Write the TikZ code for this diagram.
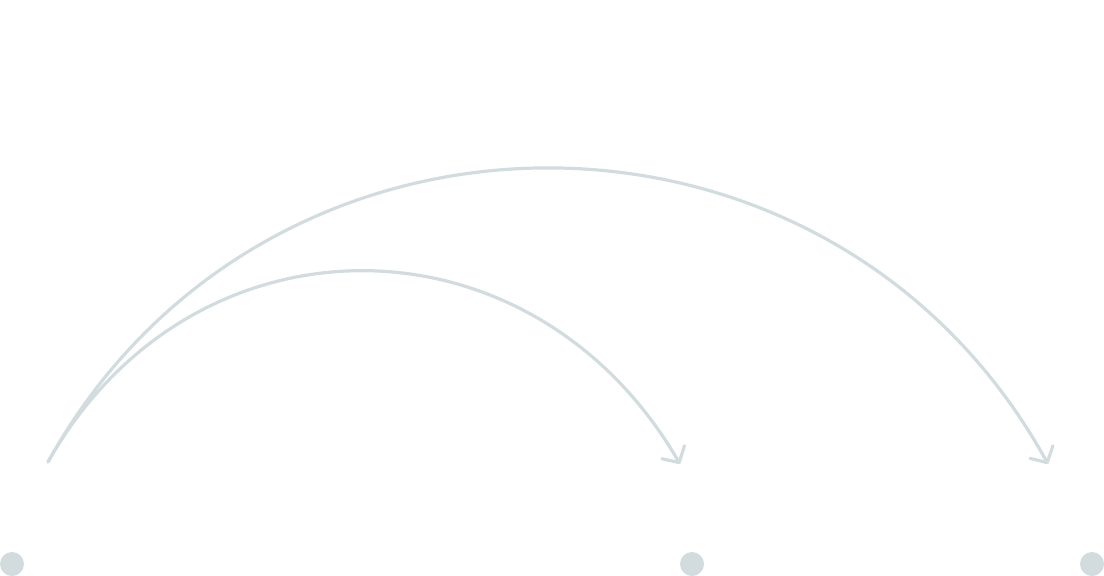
\documentclass[tikz,border=0pt]{standalone}
\usetikzlibrary{arrows.meta}
\definecolor{arcgray}{RGB}{210,220,223}
\begin{document}
\begin{tikzpicture}[
		x={(1pt,0pt)},
		y={(0pt,-1pt)},
		hop/.style={draw=arcgray,line width=3.2pt,line cap=round,-{Straight Barb[length=12pt,width=26pt,round]}},
		dot/.style={circle,fill=arcgray,inner sep=0pt,minimum size=24pt},
	]
		\useasboundingbox (0,0) rectangle (1104,576);
		
		\foreach \n/\x in {0/12, 1/692, 2/1092}{
			\node[dot] (d\n) at (\x,564) {};
		}
		\coordinate (start) at (48,462);
		\coordinate (end1) at (680,464);
		\coordinate (end2) at (1048,464);
		
		\draw[hop] (start) .. controls (192,207) and (531,207) .. (end1);
		\draw[hop] (start) .. controls (265,70) and (831,70) .. (end2);
	\end{tikzpicture}
\end{document}
